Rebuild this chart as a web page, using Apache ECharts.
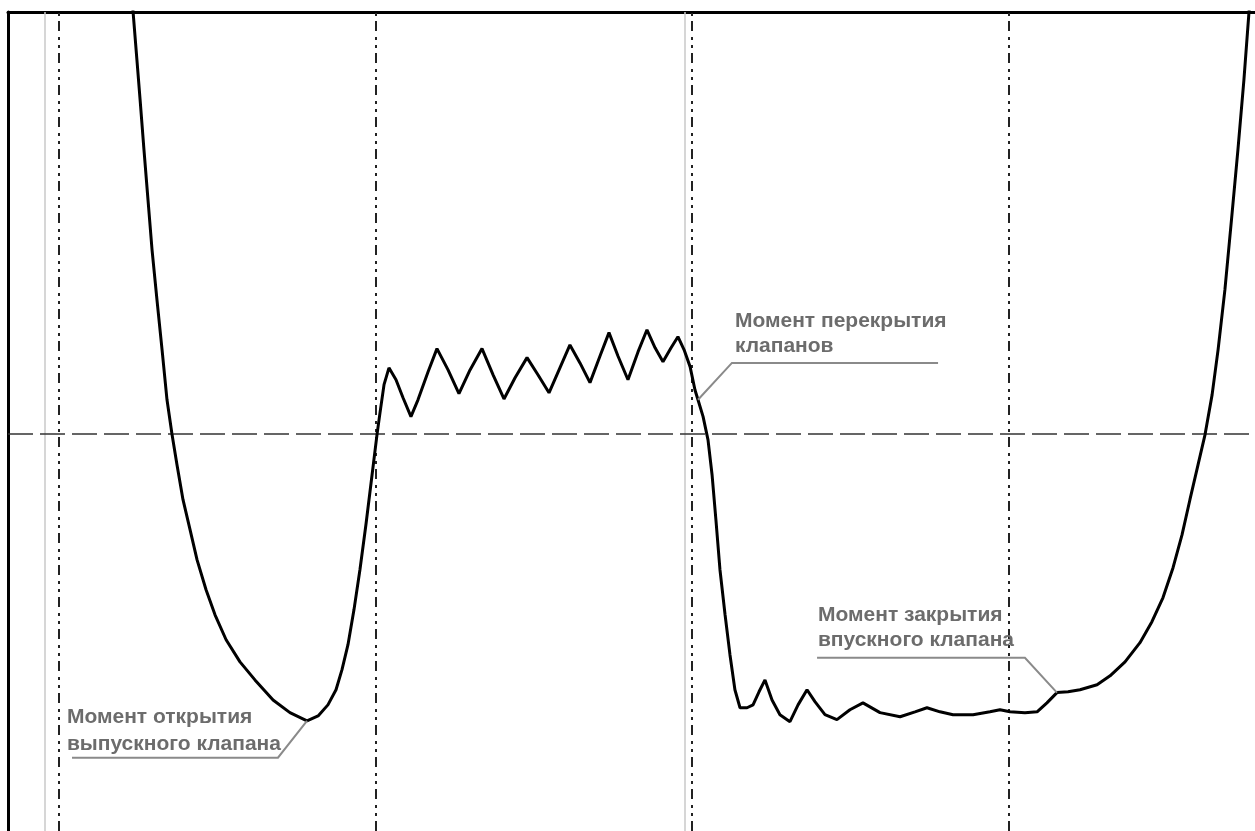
<!DOCTYPE html>
<html>
<head>
<meta charset="utf-8">
<script src="https://cdn.jsdelivr.net/npm/echarts/dist/echarts.min.js"></script>
<style>
  html, body { margin: 0; padding: 0; background: #ffffff; }
  #chart { width: 1255px; height: 831px; }
</style>
</head>
<body>
<div id="chart"></div>
<script>
// Cylinder pressure trace over the crank cycle (crank angle, degrees)
const crankAngle = [
  40.4, 42.1, 44.3, 46.1, 48.3, 50.6, 52.9, 55.7, 58.6, 61.4,
  64.2, 67.1, 70.5, 74.5, 78.5, 83.6, 88.7, 95.0, 102.9, 111.4,
  121.7, 131.3, 141.0, 147.3, 152.9, 157.5, 160.9, 164.3, 167.7, 171.1,
  174.5, 178.0, 180.8, 182.5, 184.8, 187.6, 191.6, 195.6, 200.1, 204.1,
  209.8, 214.9, 221.2, 227.4, 233.7, 240.5, 246.8, 253.0, 259.3, 266.1,
  272.3, 278.6, 284.8, 290.5, 296.2, 301.9, 307.6, 312.7, 317.8, 323.5,
  329.2, 334.3, 338.9, 343.4, 348.0, 351.9, 355.4, 358.8, 361.6, 363.3,
  366.2, 369.0, 371.3, 373.5, 375.8, 378.7, 381.5, 384.3, 387.2, 391.2,
  394.6, 398.0, 401.4, 405.4, 409.9, 415.6, 420.2, 425.3, 429.8, 435.5,
  442.3, 449.7, 457.1, 466.8, 478.2, 486.7, 493.5, 500.9, 508.3, 519.7,
  529.3, 535.0, 540.7, 549.2, 556.1, 561.7, 567.4, 573.7, 580.5, 590.2,
  597.6, 606.1, 614.6, 621.4, 627.7, 633.4, 638.5, 643.0, 647.6, 651.6,
  655.6, 659.0, 662.9, 666.9, 670.3, 673.7, 676.6, 678.3
];
// Pressure, relative units (0 = reference level)
const pressure = [
  113.3, 103.1, 91.3, 81.6, 69.4, 57.1, 44.9, 32.7, 20.5, 8.3,
  0.0, -7.6, -16.1, -23.4, -30.8, -38.1, -44.2, -50.3, -55.7, -60.1,
  -65.0, -68.1, -70.1, -68.9, -66.2, -62.5, -57.6, -51.5, -43.0, -33.2,
  -22.2, -10.0, -0.2, 5.1, 12.0, 16.1, 13.2, 8.8, 4.2, 8.3,
  15.1, 20.8, 15.6, 9.8, 15.6, 20.8, 14.4, 8.5, 13.7, 18.6,
  14.4, 10.0, 16.1, 21.7, 17.3, 12.5, 19.0, 24.7, 19.0, 13.2,
  20.0, 25.4, 21.0, 17.6, 21.0, 23.7, 20.5, 16.4, 10.7, 8.3,
  4.2, -1.5, -10.0, -21.0, -33.2, -44.2, -54.0, -62.5, -66.9, -66.9,
  -66.2, -63.0, -60.1, -65.0, -68.6, -70.3, -66.2, -62.5, -65.4, -68.6,
  -69.8, -67.4, -65.7, -68.1, -69.1, -67.9, -66.9, -67.9, -68.6, -68.6,
  -67.9, -67.4, -67.9, -68.1, -67.9, -65.7, -63.2, -63.0, -62.5, -61.3,
  -59.1, -55.7, -51.0, -45.9, -40.0, -32.7, -24.7, -16.1, -7.6, -0.2,
  9.5, 20.5, 35.2, 53.5, 69.4, 86.4, 103.1, 110.9
];

// Reference lines
const gridAngles = [0, 180, 360, 540];   // dash-dot crank marks
const markerAngles = [-8, 356];          // thin grey markers
const zeroLevel = 0;                     // dashed reference pressure

// Event labels
const eventLabels = [
  ['Момент открытия', 'выпускного клапана'],
  ['Момент перекрытия', 'клапанов'],
  ['Момент закрытия', 'впускного клапана']
];
const eventPointIndex = [22, 69, 106];

const chart = echarts.init(document.getElementById('chart'), null, { renderer: 'canvas' });

const traceData = crankAngle.map((a, i) => [a, pressure[i]]);

const refLines = [];
gridAngles.forEach(a => refLines.push({
  xAxis: a,
  lineStyle: { color: '#222222', width: 2, type: [10, 5, 3, 5, 3, 6] }
}));
markerAngles.forEach(a => refLines.push({
  xAxis: a,
  lineStyle: { color: '#c8c8c8', width: 1.5, type: 'solid' }
}));
refLines.push({
  yAxis: zeroLevel,
  lineStyle: { color: '#333333', width: 1.6, type: [25, 7] }
});

chart.setOption({
  animation: false,
  backgroundColor: '#ffffff',
  grid: { left: 8, right: 0, top: 12, bottom: 0, containLabel: false },
  xAxis: {
    type: 'value', min: -29, max: 680, position: 'top',
    axisLine: { show: true, onZero: false, lineStyle: { color: '#000', width: 3 } },
    axisTick: { show: false }, axisLabel: { show: false }, splitLine: { show: false }
  },
  yAxis: {
    type: 'value', min: -97, max: 103,
    axisLine: { show: true, onZero: false, lineStyle: { color: '#000', width: 3 } },
    axisTick: { show: false }, axisLabel: { show: false }, splitLine: { show: false }
  },
  series: [
    {
      type: 'line',
      data: [],
      silent: true,
      markLine: { silent: true, symbol: 'none', label: { show: false }, data: refLines }
    },
    {
      type: 'line',
      data: traceData,
      showSymbol: false,
      clip: true,
      lineStyle: { color: '#000000', width: 3 },
      z: 5
    }
  ]
});

// Label layout in data coordinates: text origin, underline start/end (y shared)
const labelLayout = [
  { text: [4.5, -69.3], lineGap: -6.4, under: [7.4, 124.5, -79.1] },
  { text: [384.3, 27.6], lineGap: -6.1, under: [499.8, 382.6, 17.3] },
  { text: [431.5, -44.2], lineGap: -6.3, under: [431.0, 549.2, -54.7] }
];

const toPx = p => chart.convertToPixel({ gridIndex: 0 }, p);
const graphics = [];
labelLayout.forEach((lay, k) => {
  const t1 = toPx(lay.text);
  const t2 = toPx([lay.text[0], lay.text[1] + lay.lineGap]);
  [t1, t2].forEach((p, j) => graphics.push({
    type: 'text', x: p[0], y: p[1], z: 10,
    style: {
      text: eventLabels[k][j], fill: '#6c6c6c',
      font: 'bold 21px "Liberation Sans", Arial, sans-serif',
      align: 'left', verticalAlign: 'middle'
    }
  }));
  const u1 = toPx([lay.under[0], lay.under[2]]);
  const u2 = toPx([lay.under[1], lay.under[2]]);
  const anchor = toPx(traceData[eventPointIndex[k]]);
  graphics.push({
    type: 'polyline', z: 10,
    shape: { points: [u1, u2, anchor] },
    style: { stroke: '#8a8a8a', lineWidth: 2, fill: null }
  });
});
chart.setOption({ graphic: graphics });
</script>
</body>
</html>
